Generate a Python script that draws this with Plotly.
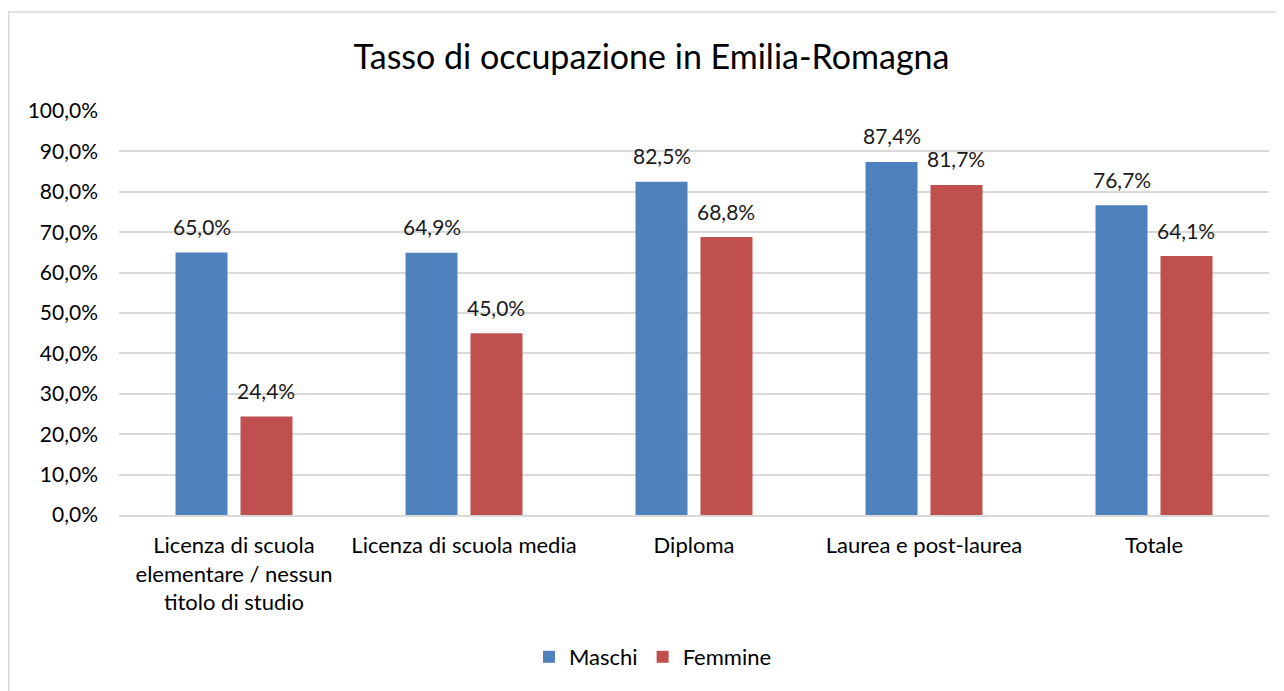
import plotly.graph_objects as go

categories = [
    "Licenza di scuola<br>elementare / nessun<br>titolo di studio",
    "Licenza di scuola media",
    "Diploma",
    "Laurea e post-laurea",
    "Totale",
]
maschi = [0.650, 0.649, 0.825, 0.874, 0.767]
femmine = [0.244, 0.450, 0.688, 0.817, 0.641]
tick_vals = [i / 10 for i in range(11)]

FONT = "Lato"
W, H = 1276, 683
L, R, T, B = 111, 15, 103, 176
pw = W - L - R
ph = H - T - B
BARGAP, GROUPGAP = 0.435, 0.2
slot = pw / len(categories) * (1 - BARGAP) / 2
offset = slot / 2

fig = go.Figure()
fig.add_bar(name="Maschi", x=categories, y=maschi, marker_color="#4F81BD",
            marker_line_width=0)
fig.add_bar(name="Femmine", x=categories, y=femmine, marker_color="#C0504D",
            marker_line_width=0)

annotations = []
for series, sign in ((maschi, -1), (femmine, 1)):
    for cat, v in zip(categories, series):
        annotations.append(dict(
            x=cat, y=v, xref="x", yref="y", text=f"{v * 100:.1f}%".replace(".", ","),
            showarrow=False, xshift=sign * offset, yshift=26, yanchor="middle",
            font=dict(size=21, color="#1a1a1a", family=FONT)))

fig.update_layout(
    width=W, height=H,
    margin=dict(l=L, r=R, t=T, b=B),
    separators=",.",
    paper_bgcolor="white", plot_bgcolor="white",
    font=dict(family=FONT, size=21, color="#1a1a1a"),
    title=dict(text="Tasso di occupazione in Emilia-Romagna", x=643.5 / W, xanchor="center",
               y=1 - 49 / H, yanchor="middle", font=dict(size=34, color="#000000", family=FONT)),
    barmode="group", bargap=BARGAP, bargroupgap=GROUPGAP,
    legend=dict(orientation="h", x=(645 - L) / pw, xanchor="center", y=-142 / ph,
                yanchor="middle", xref="paper", font=dict(size=22, color="#000000"),
                itemwidth=30, traceorder="normal"),
    annotations=annotations,
)
fig.update_yaxes(range=[0, 1.0], tickvals=tick_vals, tickformat=".1%", showgrid=True,
                 gridcolor="#D9D9D9", gridwidth=1.5, zeroline=False, showline=False,
                 ticks="", ticklabelstandoff=20, tickfont=dict(size=21, color="#000000"))
fig.update_xaxes(showline=True, linecolor="#D9D9D9", linewidth=1.5, ticks="",
                 ticklabelstandoff=10,
                 tickfont=dict(size=22, color="#000000"), tickangle=0)

# outer chart border
fig.add_shape(type="rect", xref="paper", yref="paper",
              x0=(0.75 - L) / pw, x1=(W + 20 - L) / pw, y0=-(H + 20 - T - ph) / ph,
              y1=1 + (T - 4) / ph,
              line=dict(color="#D9D9D9", width=1.5), fillcolor="rgba(0,0,0,0)", layer="below")

fig.write_html("out.html")
